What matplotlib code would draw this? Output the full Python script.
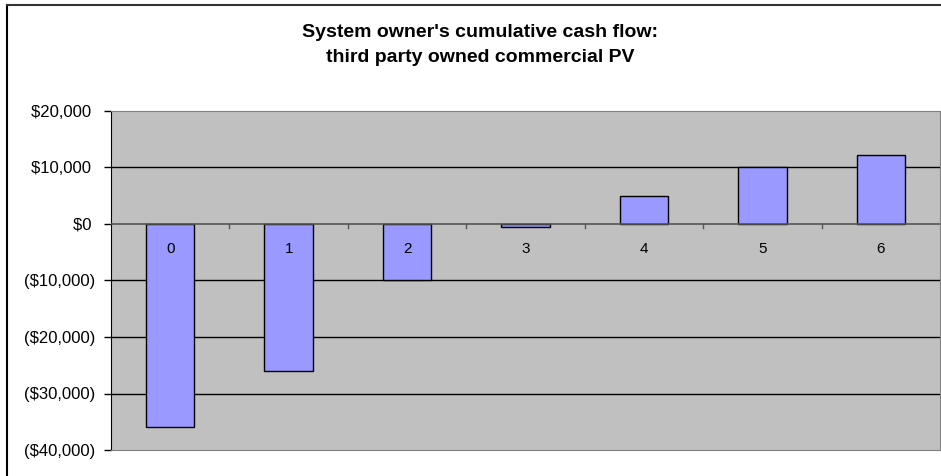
import numpy as np
import matplotlib.pyplot as plt
from matplotlib.ticker import FuncFormatter

plt.rcParams['font.family'] = ['Liberation Sans', 'DejaVu Sans']

#cumulative cash flow by year
Years=['0','1','2','3','4','5','6']
CashFlow=[-36000,-26000,-9900,-500,5000,10000,12200]
YTicks=[-40000,-30000,-20000,-10000,0,10000,20000]
Title1="System owner's cumulative cash flow:"
Title2="third party owned commercial PV"

#excel style accounting format, positives padded so they line up with the ")"
def money(v,pos):
    if v<0:
        return '(${:,.0f})'.format(-v)
    return '${:,.0f} '.format(v)

fig=plt.figure(figsize=(9.41,4.76),dpi=100)
ax=fig.add_axes([111/941,1-450/476,829/941,339/476])
ax.set_facecolor('#C0C0C0')

x=np.arange(len(Years))
ax.bar(x,CashFlow,width=0.41,color='#9999FF',edgecolor='black',linewidth=1,zorder=3)

ax.set_ylim(-40000,20000)
ax.set_xlim(-0.5,len(Years)-0.5)
ax.set_yticks(YTicks)
ax.yaxis.set_major_formatter(FuncFormatter(money))
for y in YTicks[1:-1]:
    if y!=0:
        ax.axhline(y,color='black',linewidth=1,zorder=1)
ax.axhline(0,color='#555555',linewidth=1.2,zorder=4)

#category ticks sit on the zero line
ax.set_xticks([])
for b in np.arange(0.5,len(Years)-0.5,1):
    ax.plot([b,b],[0,-700],color='#555555',linewidth=1,zorder=4)
for i,lab in enumerate(Years):
    ax.text(i,-4350,lab,ha='center',va='center',fontsize=11,zorder=5)

ax.tick_params(axis='y',labelsize=12,length=5,width=1,pad=6)
ax.spines['left'].set_color('black')
for s in ['top','right','bottom']:
    ax.spines[s].set_color('#808080')

fig.text(480/941,1-37/476,Title1,ha='center',va='baseline',fontsize=14,fontweight='bold')
fig.text(480/941,1-62/476,Title2,ha='center',va='baseline',fontsize=14,fontweight='bold')

#chart border (left and top visible)
fig.add_artist(plt.Line2D([7/941,7/941],[0,1-5/476],color='black',linewidth=1.5,transform=fig.transFigure))
fig.add_artist(plt.Line2D([7/941,1],[1-5/476,1-5/476],color='#333333',linewidth=1.5,transform=fig.transFigure))

fig.savefig('out.png',dpi=100)
